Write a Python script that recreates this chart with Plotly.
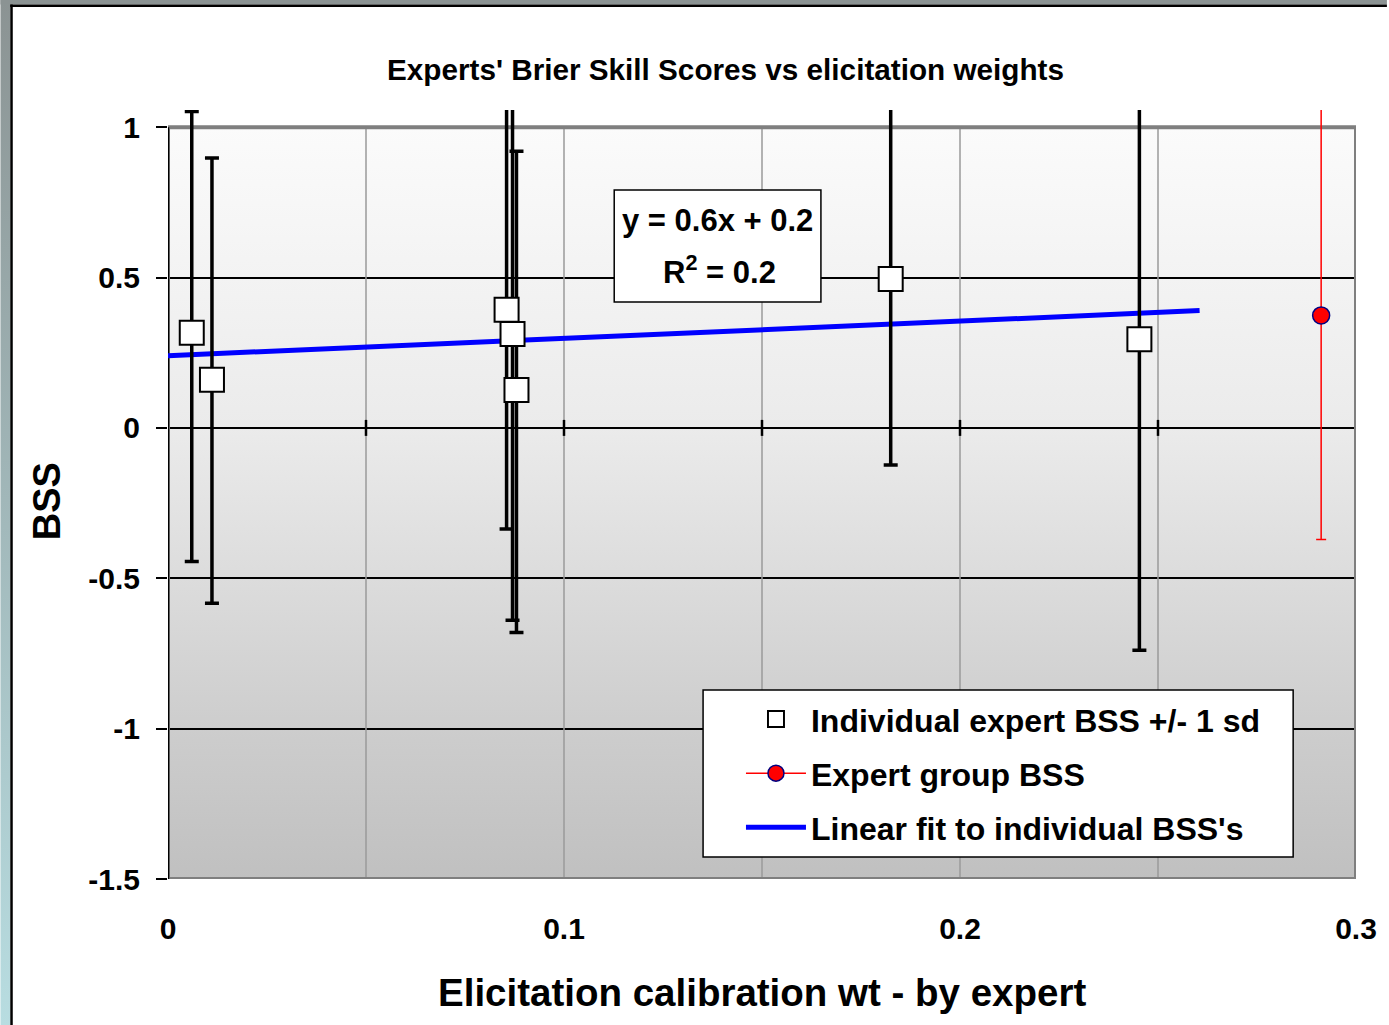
import base64
import plotly.graph_objects as go

# ---------------- data ----------------
ind_x = [0.0060, 0.0111, 0.0855, 0.0870, 0.0880, 0.1825, 0.2453]
ind_y = [0.316, 0.160, 0.393, 0.312, 0.126, 0.495, 0.295]
ind_err_plus = [0.736, 0.737, 0.729, 0.952, 0.794, 0.618, 1.034]
ind_err_minus = [0.760, 0.743, 0.729, 0.952, 0.806, 0.618, 1.034]

grp_x = [0.2912]
grp_y = [0.374]
grp_err = [0.745]

fit_x = [0.0, 0.2605]
fit_y = [0.240, 0.390]

x_tickvals = [0, 0.1, 0.2, 0.3]
x_ticktext = ["0", "0.1", "0.2", "0.3"]
y_tickvals = [-1.5, -1, -0.5, 0, 0.5, 1]
y_ticktext = ["-1.5", "-1", "-0.5", "0", "0.5", "1"]

FONT = "Liberation Sans, Arial, sans-serif"


def svg_uri(svg):
    return "data:image/svg+xml;base64," + base64.b64encode(svg.encode()).decode()


plot_bg_svg = (
    "<svg xmlns='http://www.w3.org/2000/svg' width='10' height='100' viewBox='0 0 10 100' preserveAspectRatio='none'>"
    "<defs><linearGradient id='g' x1='0' y1='0' x2='0' y2='1'>"
    "<stop offset='0' stop-color='#fbfbfb'/><stop offset='0.4' stop-color='#ebebeb'/>"
    "<stop offset='0.8' stop-color='#cdcdcd'/><stop offset='1' stop-color='#c0c0c0'/>"
    "</linearGradient></defs><rect x='0' y='0' width='10' height='100' fill='url(#g)'/></svg>"
)

frame_svg = (
    "<svg xmlns='http://www.w3.org/2000/svg' width='1389' height='1025' viewBox='0 0 1389 1025' preserveAspectRatio='none'>"
    "<defs><linearGradient id='s' x1='0' y1='0' x2='0' y2='1'>"
    "<stop offset='0' stop-color='#8b9393'/><stop offset='1' stop-color='#b8dde1'/>"
    "</linearGradient></defs>"
    "<rect x='0' y='0' width='10' height='1025' fill='url(#s)'/>"
    "<rect x='0' y='0' width='1389' height='4.5' fill='#8b9393'/>"
    "<rect x='10' y='4.5' width='2.5' height='1021' fill='#000'/>"
    "<rect x='10' y='4.5' width='1379' height='2.5' fill='#000'/>"
    "</svg>"
)

fig = go.Figure()

# linear fit
fig.add_trace(go.Scatter(
    x=fit_x, y=fit_y, mode="lines",
    line=dict(color="#0000ff", width=5),
    name="Linear fit to individual BSS's",
    legendrank=3, legendgroup="c",
))

# individual experts
fig.add_trace(go.Scatter(
    x=ind_x, y=ind_y, mode="markers",
    marker=dict(symbol="square", size=24, color="white", line=dict(color="black", width=2)),
    error_y=dict(type="data", array=ind_err_plus, arrayminus=ind_err_minus,
                 color="black", thickness=3.5, width=7),
    name="Individual expert BSS +/- 1 sd",
    legendrank=1, legendgroup="a",
))

# group
fig.add_trace(go.Scatter(
    x=grp_x, y=grp_y, mode="markers",
    marker=dict(symbol="circle", size=17, color="#ff0000", line=dict(color="#000080", width=1.5)),
    error_y=dict(type="data", array=grp_err, color="#ff0000", thickness=1.5, width=5),
    showlegend=False, legendgroup="b",
))
# legend entry for group
fig.add_trace(go.Scatter(
    x=[None], y=[None], mode="lines+markers",
    line=dict(color="#ff0000", width=1.5),
    marker=dict(symbol="circle", size=17, color="#ff0000", line=dict(color="#000080", width=1.5)),
    name="Expert group BSS",
    legendrank=2, legendgroup="b",
))

grid_x = [0.05, 0.10, 0.15, 0.20, 0.25]
tick_x = grid_x + [0.3]
shapes = []
for gx in grid_x:
    shapes.append(dict(type="line", xref="x", yref="y", x0=gx, x1=gx, y0=-1.5, y1=1,
                       line=dict(color="#9a9a9a", width=1.5), layer="between"))
# cross tick marks on the zero line
for tx in tick_x:
    shapes.append(dict(type="line", xref="x", yref="y", ysizemode="pixel", yanchor=0,
                       x0=tx, x1=tx, y0=-8, y1=8,
                       line=dict(color="black", width=2.5), layer="between"))
shapes.append(dict(type="rect", xref="x", yref="y", x0=0, x1=0.3, y0=-1.5, y1=1,
                   line=dict(color="#7f7f7f", width=4), fillcolor="rgba(0,0,0,0)", layer="between"))
shapes.append(dict(type="line", xref="x", yref="y", x0=0, x1=0, y0=-1.5, y1=1,
                   line=dict(color="black", width=2.5), layer="between"))
# equation box
shapes.append(dict(type="rect", xref="paper", yref="paper", x0=0.3756, x1=0.5496, y0=0.7503, y1=0.896,
                   line=dict(color="black", width=1.5), fillcolor="white", layer="above"))
# legend box
shapes.append(dict(type="rect", xref="paper", yref="paper", x0=0.4504, x1=0.9471, y0=0.0286, y1=0.2458,
                   line=dict(color="black", width=1.5), fillcolor="white", layer="above"))

bold = dict(family=FONT, color="black", weight="bold")
annotations = [
    dict(text="Experts' Brier Skill Scores vs elicitation weights", xref="paper", yref="paper",
         x=0.4695, y=1.053, showarrow=False, xanchor="center", yanchor="middle", font=dict(size=29.7, **bold)),
    dict(text="BSS", xref="paper", yref="paper", x=-0.1017, y=0.4915, textangle=-90,
         showarrow=False, xanchor="center", yanchor="middle", font=dict(size=38, **bold)),
    dict(text="Elicitation calibration wt - by expert", xref="paper", yref="paper", x=0.5, y=-0.147,
         showarrow=False, xanchor="center", yanchor="middle", font=dict(size=38.5, **bold)),
    dict(text="y = 0.6x + 0.2", xref="paper", yref="paper", x=0.4625, y=0.8557,
         showarrow=False, xanchor="center", yanchor="middle", font=dict(size=31, **bold)),
    dict(text="R<sup>2</sup> = 0.2", xref="paper", yref="paper", x=0.464, y=0.7919,
         showarrow=False, xanchor="center", yanchor="middle", font=dict(size=31, **bold)),
]

images = [
    dict(source=svg_uri(plot_bg_svg), xref="x", yref="y", x=0, y=1, sizex=0.3, sizey=2.5,
         xanchor="left", yanchor="top", sizing="stretch", layer="below"),
    dict(source=svg_uri(frame_svg), xref="paper", yref="paper", x=-168 / 1190, y=879 / 769,
         sizex=1389 / 1190, sizey=1025 / 769, xanchor="left", yanchor="top", sizing="stretch", layer="below"),
]

fig.update_layout(
    width=1389, height=1025,
    margin=dict(l=168, r=31, t=110, b=146, pad=0),
    paper_bgcolor="white", plot_bgcolor="rgba(0,0,0,0)",
    font=dict(family=FONT, color="black"),
    showlegend=True,
    legend=dict(x=0.4823, y=0.2435, xanchor="left", yanchor="top",
                bgcolor="rgba(0,0,0,0)", borderwidth=0, itemwidth=60,
                tracegroupgap=9.5, font=dict(size=32, **bold)),
    shapes=shapes, annotations=annotations, images=images,
    xaxis=dict(range=[0, 0.3], tickvals=x_tickvals, ticktext=x_ticktext, ticks="",
               showgrid=False, zeroline=False, showline=False,
               tickfont=dict(size=30, **bold), ticklabelstandoff=29),
    yaxis=dict(range=[-1.5, 1.057], tickvals=y_tickvals, ticktext=y_ticktext,
               ticks="outside", ticklen=11, tickwidth=1.5, tickcolor="black",
               showgrid=True, gridcolor="black", gridwidth=1.5,
               zeroline=False, showline=False,
               tickfont=dict(size=30, **bold), ticklabelstandoff=10),
)

fig.write_html("out.html")
